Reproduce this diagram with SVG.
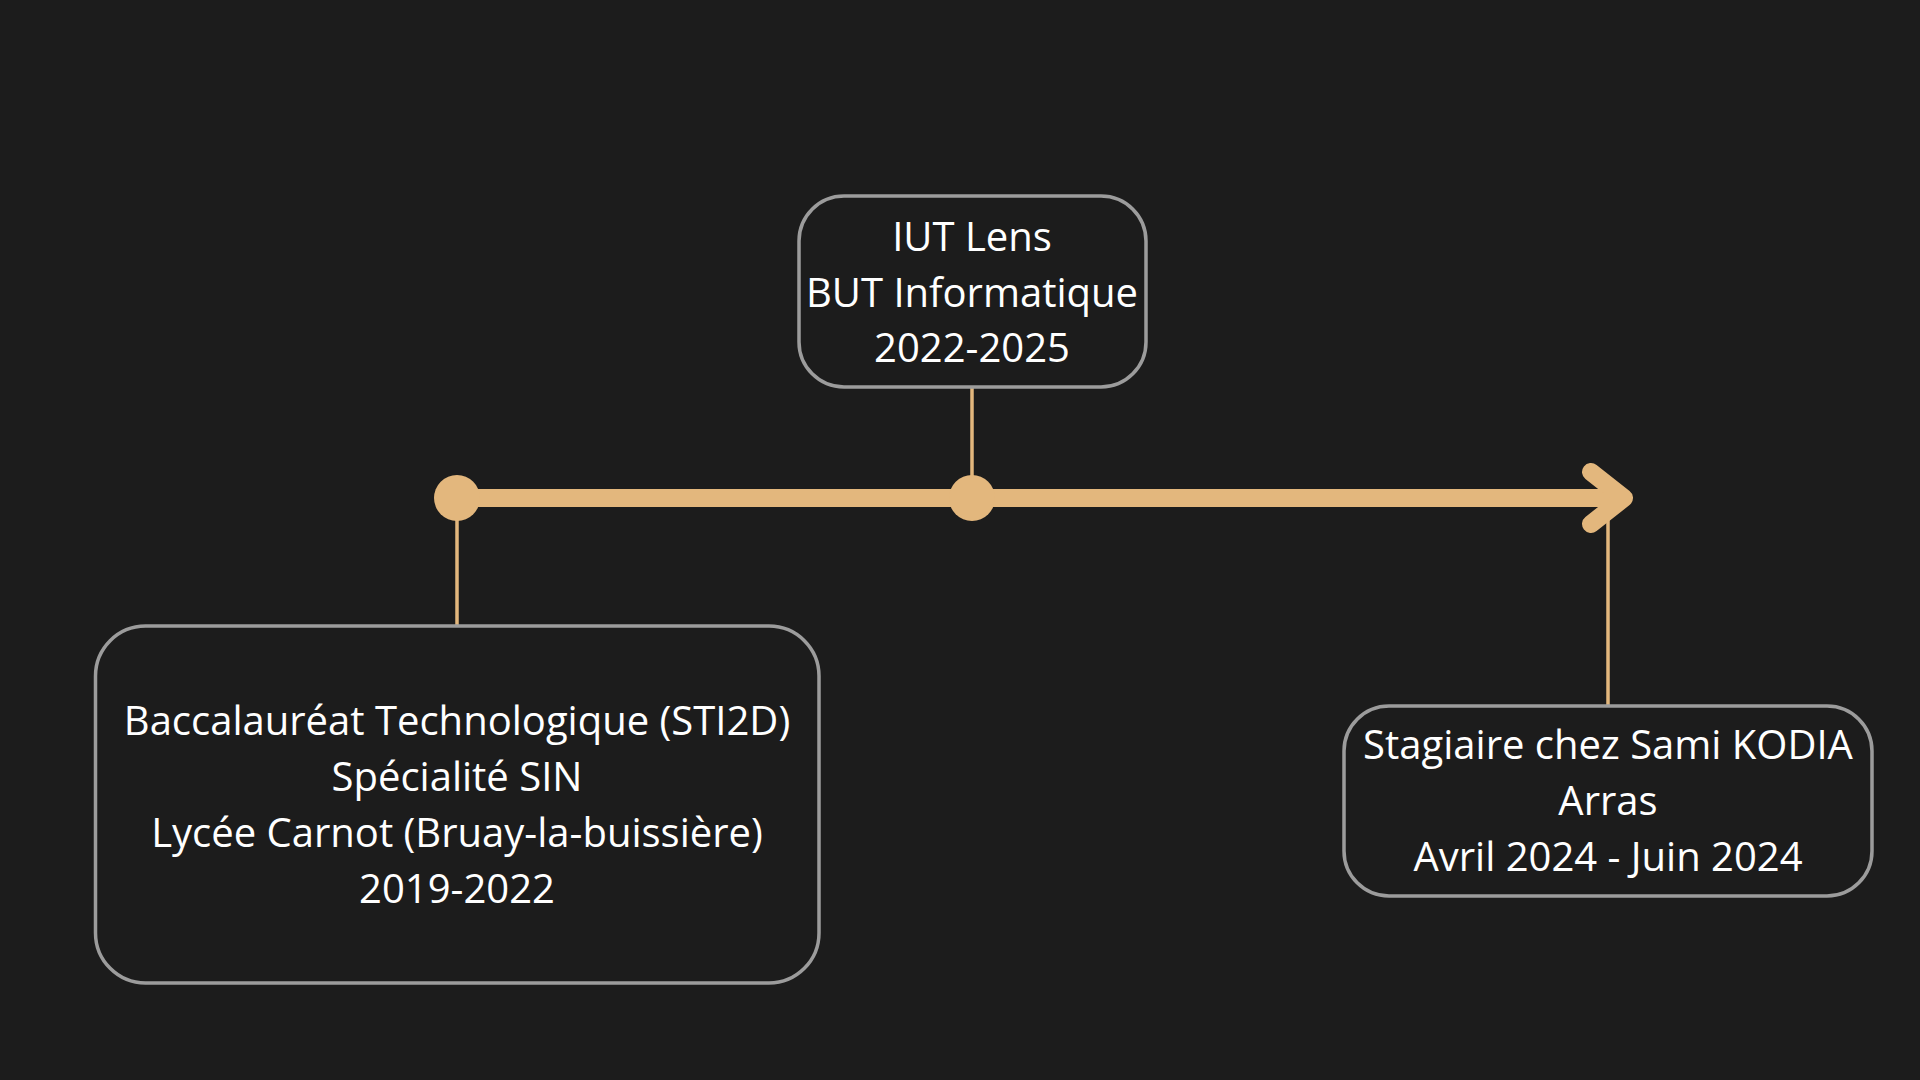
<svg xmlns="http://www.w3.org/2000/svg" width="1920" height="1080" viewBox="0 0 1920 1080">
  <style>
    .box { fill: #1c1c1c; stroke: #9c9c9c; stroke-width: 3.5; }
    .lbl { fill: #ffffff; font-family: "Open Sans", "Noto Sans", "Liberation Sans", sans-serif; font-size: 40px; text-anchor: middle; }
    .stem { stroke: #e3b77d; stroke-width: 3.5; fill: none; }
    .axis { stroke: #e3b77d; stroke-width: 18; fill: none; stroke-linecap: round; stroke-linejoin: round; }
    .dot { fill: #e3b77d; }
  </style>
  <rect width="1920" height="1080" fill="#1c1c1c"/>
  <g id="connectors">
    <line class="stem" x1="972" y1="387" x2="972" y2="490"/>
    <line class="stem" x1="457" y1="498" x2="457" y2="626"/>
    <line class="stem" x1="1608" y1="510" x2="1608" y2="706"/>
    <line class="axis" x1="457" y1="498" x2="1622" y2="498"/>
    <polyline class="axis" points="1591,472 1624,498 1591,524"/>
    <circle class="dot" cx="457" cy="498" r="23"/>
    <circle class="dot" cx="972" cy="498" r="23"/>
  </g>
  <g id="node-iut">
    <rect class="box" x="799" y="196" width="347" height="191" rx="45"/>
    <text class="lbl" x="972" y="251">IUT Lens</text>
    <text class="lbl" x="972" y="307">BUT Informatique</text>
    <text class="lbl" x="972" y="362">2022-2025</text>
  </g>
  <g id="node-bac">
    <rect class="box" x="95.5" y="626" width="723.5" height="357" rx="50"/>
    <text class="lbl" x="457" y="735">Baccalauréat Technologique (STI2D)</text>
    <text class="lbl" x="457" y="791">Spécialité SIN</text>
    <text class="lbl" x="457" y="847">Lycée Carnot (Bruay-la-buissière)</text>
    <text class="lbl" x="457" y="903">2019-2022</text>
  </g>
  <g id="node-stage">
    <rect class="box" x="1344" y="706" width="528" height="190" rx="45"/>
    <text class="lbl" x="1608" y="759">Stagiaire chez Sami KODIA</text>
    <text class="lbl" x="1608" y="815">Arras</text>
    <text class="lbl" x="1608" y="871">Avril 2024 - Juin 2024</text>
  </g>
</svg>
